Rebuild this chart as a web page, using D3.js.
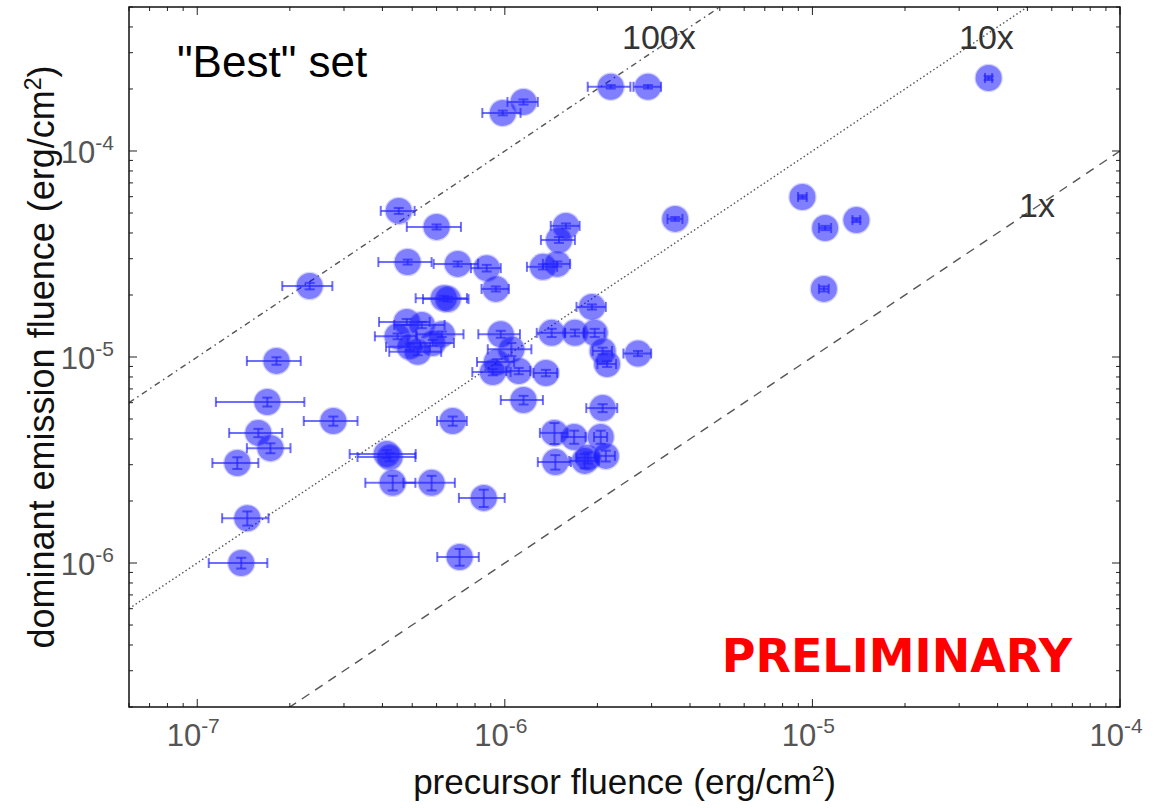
<!DOCTYPE html>
<html>
<head>
<meta charset="utf-8">
<script src="https://cdn.jsdelivr.net/npm/d3@7"></script>
<style>
  body { margin: 0; background: #fff; }
  svg { display: block; }
</style>
</head>
<body>
<div id="chart"></div>
<script>
// precursor fluence (erg/cm2) and its 1-sigma error
var precursor = [
    1.39e-7, 1.455e-7, 1.35e-7, 1.73e-7, 1.58e-7, 1.69e-7, 2.77e-7, 1.81e-7, 2.32e-7,
    4.52e-7, 6.0e-7, 4.83e-7, 7.03e-7, 8.73e-7, 9.35e-7, 6.33e-7, 6.52e-7,
    4.80e-7, 5.37e-7, 4.48e-7, 6.24e-7, 5.83e-7, 5.21e-7, 4.91e-7,
    9.70e-7, 1.05e-6, 9.42e-7, 9.14e-7, 1.11e-6, 1.36e-6, 1.42e-6, 1.69e-6, 1.96e-6,
    1.92e-6, 2.08e-6, 2.15e-6, 2.71e-6, 1.15e-6, 6.77e-7, 2.08e-6,
    1.45e-6, 1.68e-6, 2.05e-6, 1.46e-6, 1.82e-6, 1.86e-6, 2.13e-6,
    4.13e-7, 4.22e-7, 4.32e-7, 5.78e-7, 8.54e-7, 7.13e-7,
    9.85e-7, 1.15e-6, 2.21e-6, 2.92e-6, 3.58e-6, 9.28e-6, 1.10e-5, 1.39e-5, 1.09e-5, 3.74e-5,
    1.58e-6, 1.50e-6, 1.33e-6, 1.48e-6
];
var precursorErr = [
    0.30e-7, 0.25e-7, 0.23e-7, 0.28e-7, 0.31e-7, 0.54e-7, 0.55e-7, 0.36e-7, 0.43e-7,
    0.57e-7, 1.2e-7, 0.95e-7, 1.16e-7, 0.97e-7, 0.95e-7, 1.2e-7, 1.1e-7,
    0.9e-7, 1.0e-7, 0.7e-7, 1.1e-7, 1.0e-7, 1.0e-7, 0.8e-7,
    1.5e-7, 1.7e-7, 1.3e-7, 1.3e-7, 1.0e-7, 1.2e-7, 1.5e-7, 1.2e-7, 1.5e-7,
    0.21e-6, 0.15e-6, 0.15e-6, 0.28e-6, 0.18e-6, 0.75e-7, 0.24e-6,
    0.15e-6, 0.15e-6, 0.10e-6, 0.18e-6, 0.20e-6, 0.15e-6, 0.15e-6,
    1.0e-7, 0.9e-7, 0.8e-7, 1.1e-7, 1.45e-7, 1.1e-7,
    1.4e-7, 0.13e-6, 0.35e-6, 0.30e-6, 0.20e-6, 0.3e-6, 0.5e-6, 0.4e-6, 0.4e-6, 1.0e-6,
    0.17e-6, 0.19e-6, 0.15e-6, 0.15e-6
];
// dominant emission fluence (erg/cm2) and its 1-sigma error
var dominant = [
    1.0e-6, 1.65e-6, 3.06e-6, 3.61e-6, 4.28e-6, 6.05e-6, 4.89e-6, 9.57e-6, 2.21e-5,
    5.12e-5, 4.28e-5, 2.89e-5, 2.83e-5, 2.70e-5, 2.14e-5, 1.93e-5, 1.91e-5,
    1.48e-5, 1.43e-5, 1.26e-5, 1.29e-5, 1.17e-5, 1.06e-5, 1.12e-5,
    1.29e-5, 1.09e-5, 9.46e-6, 8.45e-6, 8.55e-6, 8.36e-6, 1.31e-5, 1.31e-5, 1.31e-5,
    1.75e-5, 1.07e-5, 9.25e-6, 1.04e-5, 6.18e-6, 4.89e-6, 5.65e-6,
    4.28e-6, 4.09e-6, 4.09e-6, 3.09e-6, 3.13e-6, 3.24e-6, 3.31e-6,
    3.38e-6, 3.27e-6, 2.45e-6, 2.45e-6, 2.07e-6, 1.07e-6,
    1.53e-4, 1.73e-4, 2.05e-4, 2.05e-4, 4.68e-5, 5.98e-5, 4.23e-5, 4.62e-5, 2.14e-5, 2.26e-4,
    4.33e-5, 3.70e-5, 2.74e-5, 2.83e-5
];
var dominantErr = [
    0.06e-6, 0.13e-6, 0.2e-6, 0.2e-6, 0.2e-6, 0.3e-6, 0.25e-6, 0.4e-6, 0.08e-5,
    0.17e-5, 0.12e-5, 0.08e-5, 0.08e-5, 0.1e-5, 0.06e-5, 0.05e-5, 0.05e-5,
    0.05e-5, 0.05e-5, 0.04e-5, 0.04e-5, 0.04e-5, 0.04e-5, 0.04e-5,
    0.05e-5, 0.08e-5, 0.3e-6, 0.3e-6, 0.3e-6, 0.3e-6, 0.06e-5, 0.05e-5, 0.06e-5,
    0.05e-5, 0.04e-5, 0.3e-6, 0.03e-5, 0.3e-6, 0.25e-6, 0.25e-6,
    0.5e-6, 0.3e-6, 0.3e-6, 0.25e-6, 0.25e-6, 0.2e-6, 0.2e-6,
    0.15e-6, 0.15e-6, 0.2e-6, 0.2e-6, 0.2e-6, 0.1e-6,
    0.04e-4, 0.05e-4, 0.04e-4, 0.04e-4, 0.1e-5, 0.12e-5, 0.1e-5, 0.1e-5, 0.06e-5, 0.05e-4,
    0.12e-5, 0.12e-5, 0.08e-5, 0.08e-5
];

// reference lines: dominant = ratio * precursor
var ratios = [1, 10, 100];
var ratioLabels = ['1x', '10x', '100x'];
var xTickExps = [-7, -6, -5, -4];
var yTickExps = [-6, -5, -4];

var svgWidth = 1156, svgHeight = 808;
var plot = { left: 129, right: 1120, top: 7, bottom: 707 };

var svg = d3.select('#chart').append('svg')
    .attr('width', svgWidth)
    .attr('height', svgHeight)
    .style('font-family', '"Liberation Sans", Arial, sans-serif');

var x = d3.scaleLog().domain([6e-8, 1e-4]).range([plot.left, plot.right]);
var y = d3.scaleLog().domain([2e-7, 5e-4]).range([plot.bottom, plot.top]);

svg.append('clipPath').attr('id', 'plotClip')
    .append('rect')
    .attr('x', plot.left).attr('y', plot.top)
    .attr('width', plot.right - plot.left).attr('height', plot.bottom - plot.top);

var inner = svg.append('g').attr('clip-path', 'url(#plotClip)');

// diagonal ratio lines
var lineStyles = ['9,7', '1.5,2.5', '6,4,1.5,4'];
ratios.forEach(function (r, i) {
    var xs = x.domain();
    inner.append('line')
        .attr('x1', x(xs[0])).attr('y1', y(xs[0] * r))
        .attr('x2', x(xs[1])).attr('y2', y(xs[1] * r))
        .attr('stroke', '#555')
        .attr('stroke-width', 1.4)
        .attr('stroke-dasharray', lineStyles[i]);
});

var points = precursor.map(function (d, i) {
    return { x: d, xe: precursorErr[i], y: dominant[i], ye: dominantErr[i] };
});

// markers
inner.selectAll('circle.pt')
    .data(points)
    .enter().append('circle')
    .attr('class', 'pt')
    .attr('cx', d => x(d.x))
    .attr('cy', d => y(d.y))
    .attr('r', 13)
    .attr('fill', '#0000ff')
    .attr('fill-opacity', 0.5)
    .attr('stroke', '#8080ff')
    .attr('stroke-opacity', 0.35)
    .attr('stroke-width', 2.5);

// error bars
var cap = 5;
var eb = inner.selectAll('g.eb')
    .data(points)
    .enter().append('g')
    .attr('class', 'eb')
    .attr('stroke', '#2222ff')
    .attr('stroke-opacity', 0.65)
    .attr('stroke-width', 2);

eb.append('line')
    .attr('x1', d => x(d.x - d.xe)).attr('x2', d => x(d.x + d.xe))
    .attr('y1', d => y(d.y)).attr('y2', d => y(d.y));
eb.append('line')
    .attr('x1', d => x(d.x - d.xe)).attr('x2', d => x(d.x - d.xe))
    .attr('y1', d => y(d.y) - cap).attr('y2', d => y(d.y) + cap);
eb.append('line')
    .attr('x1', d => x(d.x + d.xe)).attr('x2', d => x(d.x + d.xe))
    .attr('y1', d => y(d.y) - cap).attr('y2', d => y(d.y) + cap);
eb.append('line')
    .attr('x1', d => x(d.x)).attr('x2', d => x(d.x))
    .attr('y1', d => y(d.y - d.ye)).attr('y2', d => y(d.y + d.ye));
eb.append('line')
    .attr('x1', d => x(d.x) - cap).attr('x2', d => x(d.x) + cap)
    .attr('y1', d => y(d.y - d.ye)).attr('y2', d => y(d.y - d.ye));
eb.append('line')
    .attr('x1', d => x(d.x) - cap).attr('x2', d => x(d.x) + cap)
    .attr('y1', d => y(d.y + d.ye)).attr('y2', d => y(d.y + d.ye));

// ticks inward on all four sides, labels only bottom/left
function tickSet(scale) {
    return scale.ticks().map(v => {
        var l = Math.log10(v);
        return { v: v, major: Math.abs(l - Math.round(l)) < 1e-6 };
    });
}
var tickG = svg.append('g').attr('stroke', '#222').attr('stroke-width', 1);
tickSet(x).forEach(function (t) {
    var len = t.major ? 8 : 4, px = x(t.v);
    tickG.append('line').attr('x1', px).attr('x2', px).attr('y1', plot.bottom).attr('y2', plot.bottom - len);
    tickG.append('line').attr('x1', px).attr('x2', px).attr('y1', plot.top).attr('y2', plot.top + len);
});
tickSet(y).forEach(function (t) {
    var len = t.major ? 8 : 4, py = y(t.v);
    tickG.append('line').attr('y1', py).attr('y2', py).attr('x1', plot.left).attr('x2', plot.left + len);
    tickG.append('line').attr('y1', py).attr('y2', py).attr('x1', plot.right).attr('x2', plot.right - len);
});

svg.append('rect')
    .attr('x', plot.left).attr('y', plot.top)
    .attr('width', plot.right - plot.left).attr('height', plot.bottom - plot.top)
    .attr('fill', 'none').attr('stroke', '#111').attr('stroke-width', 1.5);

// tick labels
xTickExps.forEach(function (e) {
    var t = svg.append('text')
        .attr('x', x(Math.pow(10, e)) - 4)
        .attr('y', 746)
        .attr('text-anchor', 'middle')
        .attr('fill', '#555')
        .style('font-size', '31px');
    t.append('tspan').text('10');
    t.append('tspan').attr('dy', -13).style('font-size', '21px').text(e);
});
yTickExps.forEach(function (e) {
    var t = svg.append('text')
        .attr('x', 114)
        .attr('y', y(Math.pow(10, e)) + 12)
        .attr('text-anchor', 'end')
        .attr('fill', '#555')
        .style('font-size', '31px');
    t.append('tspan').text('10');
    t.append('tspan').attr('dy', -13).style('font-size', '21px').text(e);
});

// axis titles
var xt = svg.append('text')
    .attr('x', (plot.left + plot.right) / 2)
    .attr('y', 794)
    .attr('text-anchor', 'middle')
    .attr('fill', '#111')
    .style('font-size', '35px');
xt.append('tspan').text('precursor fluence (erg/cm');
xt.append('tspan').attr('dy', -13).style('font-size', '22px').text('2');
xt.append('tspan').attr('dy', 13).text(')');

var yt = svg.append('text')
    .attr('transform', 'translate(54,' + ((plot.top + plot.bottom) / 2) + ') rotate(-90)')
    .attr('text-anchor', 'middle')
    .attr('fill', '#111')
    .style('font-size', '36px');
yt.append('tspan').text('dominant emission fluence (erg/cm');
yt.append('tspan').attr('dy', -13).style('font-size', '23px').text('2');
yt.append('tspan').attr('dy', 13).text(')');

// annotations
svg.append('text')
    .attr('x', 177).attr('y', 77)
    .attr('fill', '#000')
    .style('font-size', '44px')
    .text('"Best" set');

var labelPos = [[1019, 217], [959, 49], [622, 49]];
ratioLabels.forEach(function (lbl, i) {
    svg.append('text')
        .attr('x', labelPos[i][0]).attr('y', labelPos[i][1])
        .attr('fill', '#333')
        .style('font-size', '34px')
        .text(lbl);
});

svg.append('text')
    .attr('x', 1072).attr('y', 672)
    .attr('text-anchor', 'end')
    .attr('fill', '#ff0000')
    .style('font-family', '"DejaVu Sans", Verdana, sans-serif')
    .style('font-weight', 'bold')
    .style('font-size', '46px')
    .text('PRELIMINARY');
</script>
</body>
</html>
